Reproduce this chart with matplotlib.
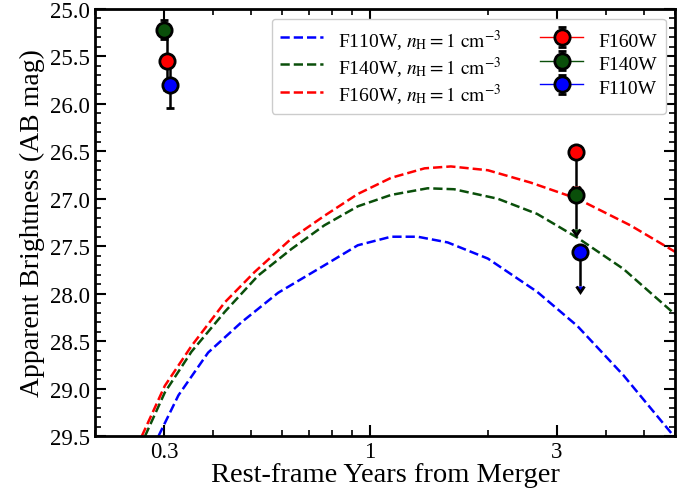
import numpy as np
import matplotlib
matplotlib.use("Agg")
from matplotlib import pyplot as plt
from matplotlib.ticker import FixedLocator, LogLocator, NullFormatter, FixedFormatter, MultipleLocator

plt.rcParams['font.family'] = ['Liberation Serif', 'DejaVu Serif']
plt.rcParams['mathtext.fontset'] = 'stix'

# model light curves, n_H = 1 cm^-3
t_red = [0.263, 0.301, 0.352, 0.428, 0.510, 0.632, 0.767, 0.933, 1.134, 1.38, 1.61, 2.0, 2.57, 3.38, 4.61, 6.0]
m_red = [29.50, 28.97, 28.55, 28.09, 27.77, 27.42, 27.18, 26.95, 26.78, 26.68, 26.66, 26.70, 26.83, 27.00, 27.28, 27.56]

t_green = [0.268, 0.301, 0.352, 0.428, 0.520, 0.632, 0.767, 0.933, 1.134, 1.405, 1.64, 2.12, 2.67, 3.38, 4.43, 6.0]
m_green = [29.50, 29.04, 28.61, 28.19, 27.81, 27.53, 27.28, 27.08, 26.96, 26.89, 26.90, 27.00, 27.16, 27.41, 27.74, 28.22]

t_blue = [0.290, 0.326, 0.388, 0.472, 0.585, 0.768, 0.933, 1.134, 1.325, 1.58, 2.0, 2.67, 3.38, 4.43, 5.95]
m_blue = [29.50, 29.07, 28.62, 28.30, 27.99, 27.70, 27.49, 27.40, 27.40, 27.46, 27.63, 27.98, 28.34, 28.86, 29.50]

# detections (early epoch)
filters = ["F160W", "F140W", "F110W"]
t_early = [0.305, 0.300, 0.310]
m_early = [25.55, 25.22, 25.80]
err_early = [0.30, 0.10, 0.24]

# upper limits (late epoch)
t_late = [3.36, 3.36, 3.44]
m_late = [26.51, 26.96, 27.56]

colors = {"F160W": "red", "F140W": "#0a4f0a", "F110W": "blue"}


def main():
    fig = plt.figure(figsize=(6.94, 4.89), dpi=100)
    ax = fig.add_axes([0.137, 0.106, 0.836, 0.874])
    ax.set_xscale("log")
    ax.set_xlim(0.2, 6.0)
    ax.set_ylim(29.5, 25.0)

    lab = r"$n_{\rm H} = 1\ {\rm cm}^{-3}$"
    ax.plot(t_blue, m_blue, ls="--", lw=1.8, color="blue", label="F110W, " + lab)
    ax.plot(t_green, m_green, ls="--", lw=1.8, color="#0a4f0a", label="F140W, " + lab)
    ax.plot(t_red, m_red, ls="--", lw=1.8, color="red", label="F160W, " + lab)

    for i, f in enumerate(filters):
        ax.errorbar(t_early[i], m_early[i], yerr=err_early[i], marker="o", ls="-", lw=1,
                    color=colors[f], ms=11, mec="black", mew=2, ecolor="black",
                    elinewidth=1.8, capsize=3, capthick=1.8, label=f, zorder=5)
        ax.errorbar(t_late[i], m_late[i], yerr=0.36, lolims=True, marker="o", ls="none",
                    color=colors[f], ms=11, mec="black", mew=2, ecolor="black",
                    elinewidth=1.8, capsize=3, zorder=5)

    ax.xaxis.set_major_locator(FixedLocator([0.3, 1, 3]))
    ax.xaxis.set_major_formatter(FixedFormatter(["0.3", "1", "3"]))
    ax.xaxis.set_minor_locator(LogLocator(base=10, subs=np.arange(2, 10)))
    ax.xaxis.set_minor_formatter(NullFormatter())
    ax.yaxis.set_major_locator(MultipleLocator(0.5))
    ax.yaxis.set_minor_locator(MultipleLocator(0.1))
    ax.yaxis.set_major_formatter(matplotlib.ticker.FormatStrFormatter("%.1f"))

    ax.tick_params(which="both", direction="in", top=True, right=True, labelsize=16.5)
    ax.tick_params(which="major", length=8, width=1.5)
    ax.tick_params(which="minor", length=4, width=1.2)
    for s in ax.spines.values():
        s.set_linewidth(2)

    ax.set_xlabel("Rest-frame Years from Merger", fontsize=20.5, labelpad=0)
    ax.set_ylabel("Apparent Brightness (AB mag)", fontsize=20, labelpad=4)

    # tall handles so both columns get the same row height
    ax.legend(loc="upper right", ncol=2, fontsize=14, handlelength=2.2, handleheight=1.3,
              columnspacing=2.0, labelspacing=0.12, framealpha=1, borderpad=0.42)

    fig.savefig("out.png", dpi=100)


if __name__ == "__main__":
    main()
